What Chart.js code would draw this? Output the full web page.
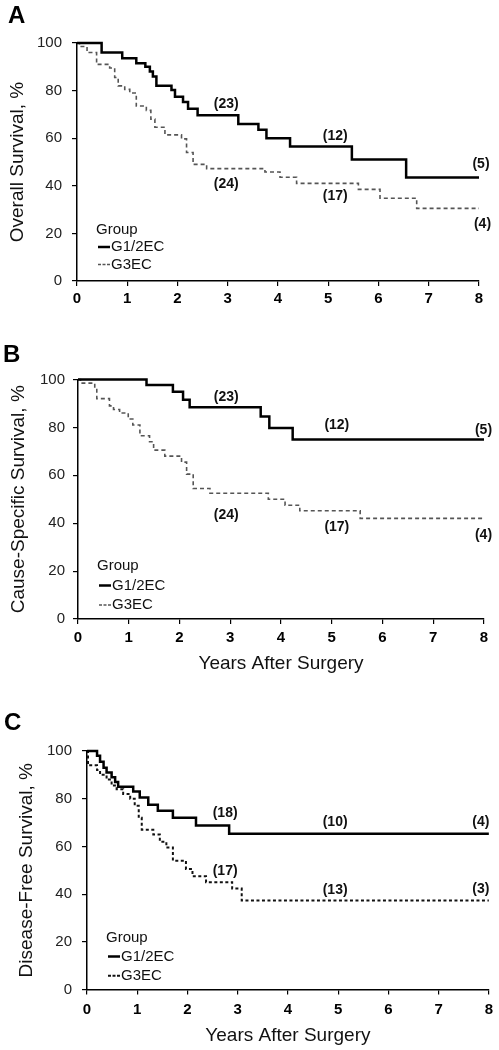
<!DOCTYPE html>
<html>
<head>
<meta charset="utf-8">
<script src="https://cdn.jsdelivr.net/npm/chart.js@4"></script>
<style>
  body { margin: 0; background: #fff; }
  #wrap { position: relative; width: 499px; height: 1050px; font-family: "Liberation Sans", Arial, sans-serif; }
  canvas { position: absolute; left: 0; }
  .panel { position: absolute; font-weight: bold; font-size: 24px; line-height: 1; color: #000; }
</style>
</head>
<body>
<div id="wrap">
  <canvas id="chartA" width="499" height="330" style="top:0"></canvas>
  <canvas id="chartB" width="499" height="355" style="top:330px"></canvas>
  <canvas id="chartC" width="499" height="365" style="top:685px"></canvas>
  <div class="panel" style="left:8px;top:3px">A</div>
  <div class="panel" style="left:3px;top:342px">B</div>
  <div class="panel" style="left:4px;top:710px">C</div>
</div>
<script>
// Panel A - overall survival
var aG12Years = [0, 0.49, 0.90, 1.18, 1.36, 1.45, 1.51, 1.58, 1.88, 1.95, 2.11, 2.21, 2.40, 3.21, 3.61, 3.77, 4.24, 5.47, 6.55, 8];
var aG12Surv  = [100, 96, 93.6, 91.5, 90, 88, 85.9, 82, 80.2, 77.4, 75.2, 72.4, 69.6, 66, 63.5, 60, 56.5, 51, 43.5, 43.5];
var aG3Years  = [0, 0.05, 0.20, 0.39, 0.65, 0.75, 0.82, 0.95, 1.05, 1.18, 1.38, 1.47, 1.55, 1.75, 2.08, 2.18, 2.31, 2.58, 3.74, 4.04, 4.37, 5.60, 6.03, 6.76, 8];
var aG3Surv   = [100, 98.5, 96, 91, 89.5, 85.5, 82, 80.5, 79, 73.5, 71.7, 68, 64.6, 61.4, 59.7, 54, 49, 47.2, 45.8, 43.6, 41, 38.5, 34.8, 30.5, 30.5];
var aRiskText  = ['(23)', '(12)', '(5)', '(24)', '(17)', '(4)'];
var aRiskYears = [2.97, 5.14, 8.04, 2.97, 5.14, 8.07];
var aRiskSurv  = [74.5, 61.0, 49.2, 40.8, 35.6, 24.0];

// Panel B - cause-specific survival
var bG12Years = [0, 1.35, 1.87, 2.07, 2.20, 3.60, 3.77, 4.23, 8];
var bG12Surv  = [100, 97.7, 94.9, 91.5, 88.4, 84.5, 79.7, 75, 75];
var bG3Years  = [0, 0.05, 0.33, 0.37, 0.62, 0.70, 0.82, 0.99, 1.08, 1.22, 1.41, 1.49, 1.71, 2.04, 2.14, 2.27, 2.60, 3.75, 4.08, 4.37, 5.56, 8];
var bG3Surv   = [100, 98.5, 96.5, 92, 89, 87.5, 86, 83.5, 81, 76.5, 74, 70.5, 68, 65.5, 60.5, 54.5, 52.5, 50, 47.5, 45.2, 42, 42];
var bRiskText  = ['(23)', '(12)', '(5)', '(24)', '(17)', '(4)'];
var bRiskYears = [2.92, 5.10, 7.99, 2.92, 5.10, 7.99];
var bRiskSurv  = [92.6, 80.9, 78.7, 43.2, 38.5, 34.9];

// Panel C - disease-free survival
var cG12Years = [0, 0.20, 0.26, 0.33, 0.39, 0.49, 0.56, 0.62, 0.92, 1.05, 1.22, 1.41, 1.71, 2.17, 2.83, 8];
var cG12Surv  = [100, 98, 95.5, 93, 91, 89, 87, 85, 83, 80.5, 77.5, 75, 72, 68.8, 65.3, 65.3];
var cG3Years  = [0, 0.02, 0.20, 0.26, 0.39, 0.49, 0.59, 0.72, 0.86, 0.95, 1.03, 1.09, 1.32, 1.45, 1.58, 1.71, 1.97, 2.10, 2.37, 2.89, 3.08, 8];
var cG3Surv   = [100, 94, 92, 90, 88, 85.5, 84, 82, 80, 77, 72, 67, 65, 62, 59.5, 54, 50.5, 47.5, 45, 42.3, 37.3, 37.3];
var cRiskText  = ['(18)', '(10)', '(4)', '(17)', '(13)', '(3)'];
var cRiskYears = [2.75, 4.94, 7.84, 2.75, 4.94, 7.84];
var cRiskSurv  = [73.8, 70.1, 70.1, 49.7, 41.5, 42.1];

var xTicks = [0, 1, 2, 3, 4, 5, 6, 7, 8];
var yTicks = [0, 20, 40, 60, 80, 100];

var FAMILY = '"Liberation Sans", Arial, sans-serif';

function toXY(xs, ys) {
  return xs.map(function(x, i) { return { x: x, y: ys[i] }; });
}

// numbers at risk + the little "Group" legend in the lower left
var kmExtras = {
  id: 'kmExtras',
  afterDraw: function(chart, args, opts) {
    var ctx = chart.ctx, xs = chart.scales.x, ys = chart.scales.y, ca = chart.chartArea;
    ctx.save();
    ctx.fillStyle = '#111';
    ctx.textAlign = 'center';
    ctx.textBaseline = 'middle';
    ctx.font = 'bold 14px ' + FAMILY;
    opts.text.forEach(function(t, i) {
      ctx.fillText(t, xs.getPixelForValue(opts.years[i]), ys.getPixelForValue(opts.surv[i]));
    });

    ctx.textAlign = 'left';
    ctx.font = '15px ' + FAMILY;
    var lx = ca.left + 19;
    ctx.fillText('Group', lx, ca.bottom + opts.legendY[0]);
    chart.data.datasets.forEach(function(ds, i) {
      var y = ca.bottom + opts.legendY[i + 1];
      ctx.strokeStyle = ds.borderColor;
      ctx.lineWidth = ds.borderWidth;
      ctx.setLineDash(ds.legendDash || []);
      ctx.beginPath();
      ctx.moveTo(lx + 2, y);
      ctx.lineTo(lx + 14, y);
      ctx.stroke();
      ctx.fillText(ds.label, lx + 15, y);
    });
    ctx.restore();
  }
};

function makeChart(id, o) {
  return new Chart(document.getElementById(id), {
    type: 'line',
    data: {
      datasets: [
        { label: 'G1/2EC', data: toXY(o.g12Years, o.g12Surv), borderColor: '#000', borderWidth: 2.5,
          stepped: 'before', pointRadius: 0, fill: false, clip: 4 },
        { label: 'G3EC', data: toXY(o.g3Years, o.g3Surv), borderColor: o.dashColor, borderWidth: o.dashWidth,
          borderDash: o.dash, legendDash: [3, 1.5], stepped: 'before', pointRadius: 0, fill: false, clip: 4 }
      ]
    },
    options: {
      responsive: false,
      animation: false,
      layout: { padding: { left: 0, right: o.padRight, top: o.padTop, bottom: 0 } },
      plugins: {
        legend: { display: false },
        tooltip: { enabled: false },
        kmExtras: { text: o.riskText, years: o.riskYears, surv: o.riskSurv, legendY: o.legendY }
      },
      scales: {
        x: {
          type: 'linear', min: 0, max: 8,
          afterBuildTicks: function(s) { s.ticks = xTicks.map(function(v) { return { value: v }; }); },
          ticks: { color: '#000', font: { size: 15, weight: 'bold', family: FAMILY }, padding: o.xTickPad, maxRotation: 0 },
          grid: { drawOnChartArea: false, drawTicks: true, tickLength: 5, color: '#000', lineWidth: 1.2 },
          border: { display: true, color: '#000', width: 1.5 },
          title: { display: !!o.xTitle, text: o.xTitle || '', color: '#111', font: { size: 19, family: FAMILY },
                   padding: { top: 0, bottom: o.xTitlePad } },
          afterFit: function(s) { s.height = o.xHeight; }
        },
        y: {
          min: 0, max: 100,
          afterBuildTicks: function(s) { s.ticks = yTicks.map(function(v) { return { value: v }; }); },
          ticks: { color: '#222', font: { size: 15, family: FAMILY }, padding: o.yTickPad },
          grid: { drawOnChartArea: false, drawTicks: true, tickLength: 5, color: '#000', lineWidth: 1.2 },
          border: { display: true, color: '#000', width: 1.5 },
          title: { display: true, text: o.yTitle, color: '#111', font: { size: 19, family: FAMILY },
                   padding: { top: o.yTitlePad, bottom: 0 } },
          afterFit: function(s) { s.width = o.yWidth; }
        }
      }
    },
    plugins: [kmExtras]
  });
}

makeChart('chartA', {
  g12Years: aG12Years, g12Surv: aG12Surv, g3Years: aG3Years, g3Surv: aG3Surv,
  riskText: aRiskText, riskYears: aRiskYears, riskSurv: aRiskSurv,
  dashColor: '#555', dashWidth: 1.6, dash: [4, 3],
  yTitle: 'Overall Survival, %', xTitle: null,
  padTop: 43, padRight: 20, yWidth: 77, xHeight: 49,
  xTickPad: 4, yTickPad: 10, yTitlePad: 6.6, xTitlePad: 0,
  legendY: [-51, -34, -16.5]
});

makeChart('chartB', {
  g12Years: bG12Years, g12Surv: bG12Surv, g3Years: bG3Years, g3Surv: bG3Surv,
  riskText: bRiskText, riskYears: bRiskYears, riskSurv: bRiskSurv,
  dashColor: '#555', dashWidth: 1.6, dash: [4, 3],
  yTitle: 'Cause-Specific Survival, %', xTitle: 'Years After Surgery',
  padTop: 49.5, padRight: 15, yWidth: 78, xHeight: 66,
  xTickPad: 5, yTickPad: 8, yTitlePad: 7.6, xTitlePad: 9.6,
  legendY: [-53, -33.5, -14]
});

makeChart('chartC', {
  g12Years: cG12Years, g12Surv: cG12Surv, g3Years: cG3Years, g3Surv: cG3Surv,
  riskText: cRiskText, riskYears: cRiskYears, riskSurv: cRiskSurv,
  dashColor: '#111', dashWidth: 2, dash: [3, 2.5],
  yTitle: 'Disease-Free Survival, %', xTitle: 'Years After Surgery',
  padTop: 66, padRight: 7, yWidth: 87, xHeight: 60.5,
  xTickPad: 6, yTickPad: 10, yTitlePad: 15.6, xTitlePad: 2.6,
  legendY: [-51.5, -33, -13.7]
});
</script>
</body>
</html>
